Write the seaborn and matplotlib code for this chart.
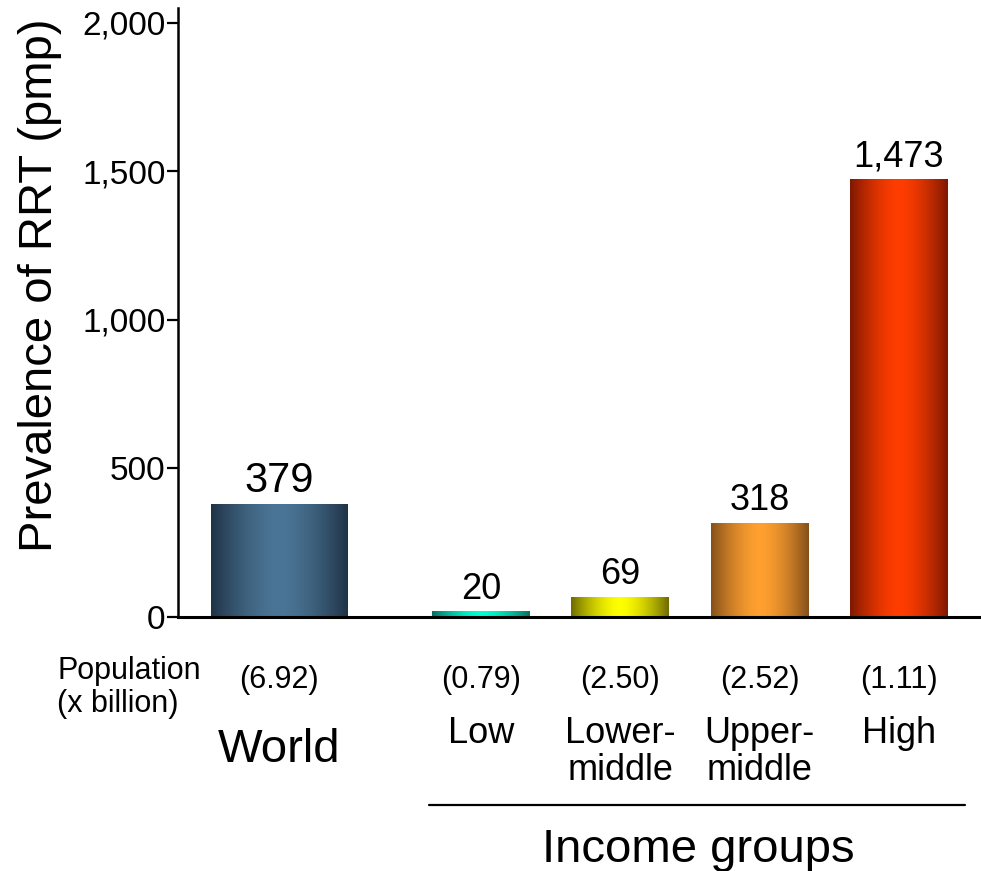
import numpy as np
import pandas as pd
import matplotlib
matplotlib.use("Agg")
import matplotlib.pyplot as plt
import matplotlib.transforms as mtransforms
from matplotlib.colors import to_rgb
import seaborn as sns

# Data
groups = ["World", "Low", "Lower-\nmiddle", "Upper-\nmiddle", "High"]
prevalence = [379, 20, 69, 318, 1473]
population = ["(6.92)", "(0.79)", "(2.50)", "(2.52)", "(1.11)"]
y_ticks = [0, 500, 1000, 1500, 2000]
y_tick_labels = ["0", "500", "1,000", "1,500", "2,000"]

# Layout: bar centres on a numeric axis (World sits apart from the income groups)
positions = [0.0, 1.446, 2.446, 3.446, 4.446]
edge_colors = ["#1f3346", "#0b6e5e", "#6e6a00", "#85501a", "#7e1800"]
centre_colors = ["#4b7596", "#00ffd2", "#ffff00", "#ffa030", "#ff3d00"]

sns.set_theme(style="white")
plt.rcParams["font.family"] = ["Liberation Sans", "DejaVu Sans"]
plt.rcParams["text.color"] = "black"
plt.rcParams["axes.labelcolor"] = "black"

fig = plt.figure(figsize=(9.81, 8.71), dpi=100)
ax = fig.add_axes([178 / 981, 1 - 617 / 871, (981 - 178) / 981, (617 - 8) / 871])

df = pd.DataFrame({"pos": positions, "value": prevalence})
sns.barplot(data=df, x="pos", y="value", native_scale=True, width=0.703,
            color="#888888", ax=ax, errorbar=None, zorder=2)

bars = sorted(ax.patches, key=lambda p: p.get_x())
# World bar is wider than the income-group bars
w_world = 0.983
cx = bars[0].get_x() + bars[0].get_width() / 2
bars[0].set_x(cx - w_world / 2)
bars[0].set_width(w_world)

# Horizontal shading: dark edges, bright centre
t = np.linspace(0, 1, 256)
f = np.abs(2 * t - 1) ** 1.6
for bar, ec, cc in zip(bars, edge_colors, centre_colors):
    e = np.array(to_rgb(ec))
    c = np.array(to_rgb(cc))
    grad = (c[None, :] * (1 - f[:, None]) + e[None, :] * f[:, None])[None, :, :]
    x0, y0 = bar.get_x(), bar.get_y()
    w, h = bar.get_width(), bar.get_height()
    bar.set_facecolor("none")
    bar.set_edgecolor("none")
    im = ax.imshow(grad, extent=[x0, x0 + w, y0, y0 + h], aspect="auto",
                   interpolation="bilinear", zorder=2)
    im.set_clip_path(bar)

ax.set_xlim(-0.728, 5.035)
ax.set_ylim(0, 2050)

# Value labels
for i, (bar, v) in enumerate(zip(bars, prevalence)):
    xc = bar.get_x() + bar.get_width() / 2
    ax.annotate(f"{v:,}", (xc, v), xytext=(0, 9), textcoords="offset points",
                ha="center", va="baseline", fontsize=30 if i == 0 else 26,
                color="black")

# Axes styling
sns.despine(ax=ax)
ax.spines["left"].set_linewidth(1.8)
ax.spines["bottom"].set_linewidth(2.2)
ax.spines["left"].set_color("black")
ax.spines["bottom"].set_color("black")
ax.set_yticks(y_ticks)
ax.set_yticklabels(y_tick_labels, fontsize=24)
ax.tick_params(axis="y", direction="out", length=8, width=1.6, pad=1,
               left=True, colors="black")
ax.set_xticks([])
ax.set_xlabel("")
ax.set_ylabel("Prevalence of RRT (pmp)", fontsize=34, color="black")
ax.yaxis.set_label_coords(-0.1445, 0.545)

# Text below the axis
trans = mtransforms.blended_transform_factory(ax.transData, fig.transFigure)
for i, (pos, pop, name) in enumerate(zip(positions, population, groups)):
    ax.text(pos, 1 - 688 / 871, pop, transform=trans, ha="center",
            va="baseline", fontsize=22, color="black")
    if i == 0:
        ax.text(pos, 1 - 762 / 871, name, transform=trans, ha="center",
                va="baseline", fontsize=34, color="black")
    else:
        ax.text(pos, 1 - 716 / 871, name, transform=trans, ha="center",
                va="top", fontsize=26, linespacing=1.06, color="black")

fig.text(57 / 981, 1 - 712 / 871, "Population\n(x billion)", ha="left",
         va="baseline", fontsize=22, linespacing=1.12, color="black")

# Bracket line and label for the income groups
fig.add_artist(plt.Line2D([429 / 981, 965 / 981], [1 - 805 / 871, 1 - 805 / 871],
                          color="black", linewidth=1.6, transform=fig.transFigure))
fig.text(698 / 981, 1 - 862 / 871, "Income groups", ha="center",
         va="baseline", fontsize=34, color="black")

fig.savefig("out.png", dpi=100)
